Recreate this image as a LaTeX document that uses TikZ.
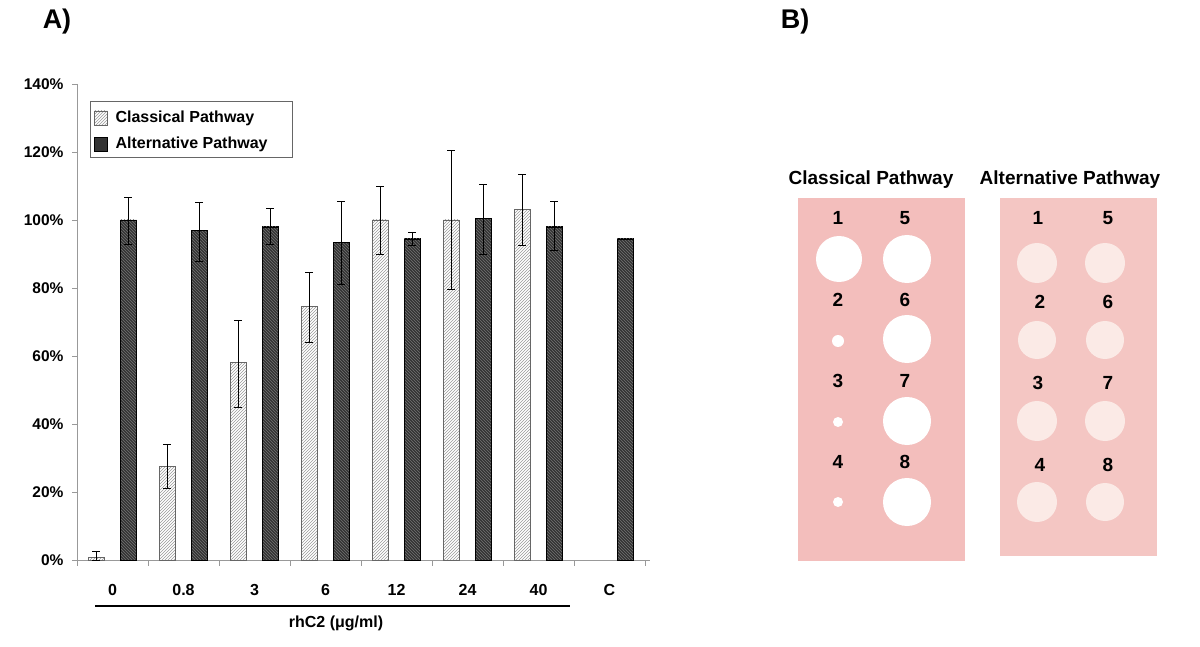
\documentclass[tikz,border=0pt]{standalone}
\usepackage{fontspec}
\setmainfont{Liberation Sans}
\usetikzlibrary{patterns}
\definecolor{plate}{HTML}{F3BEBC}
\definecolor{plateb}{HTML}{F4C6C3}
\definecolor{spotb}{HTML}{FBEAE6}
\definecolor{darkbar}{HTML}{333333}
\tikzset{
 lbl/.style={font=\bfseries\fontsize{16}{18}\selectfont},
 big/.style={font=\bfseries\fontsize{19}{21}\selectfont},
 tick/.style={font=\bfseries\fontsize{15.5}{17}\selectfont,anchor=east},
 classbar/.style={draw=black!60,line width=0.8pt,pattern=north east lines,pattern color=black!40},
 altbar/.style={draw=black,fill=darkbar,line width=0.6pt},
 err/.style={line width=0.6pt},
 spot/.style={fill=white},
 spotB/.style={fill=spotb},
}
\begin{document}
\begin{tikzpicture}[x=1pt,y=-1pt]
\useasboundingbox (0,0) rectangle (1200,647);
\node[font=\bfseries\fontsize{27}{29}\selectfont] (pa) at (57,22) {A)};
\node[font=\bfseries\fontsize{27}{29}\selectfont] (pb) at (795,22) {B)};
% axes
\draw[black!40] (77,84) -- (77,560) -- (610+40,560);
\foreach \i/\t in {0/0\%,1/20\%,2/40\%,3/60\%,4/80\%,5/100\%,6/120\%,7/140\%}{
  \draw[black!40] (72,560-68*\i) -- (77,560-68*\i);
  \node[tick] (t\i) at (67,560-68*\i) {\t};
}
\foreach \g in {0,...,8}{\draw[black!40] (77+71*\g,560) -- (77+71*\g,566);}
\foreach \g/\c/\cl/\ch/\a/\al/\ah in {0/0.8/0/2.5/100/93/106.7,1/27.5/21/34/97/88/105.3,2/58/45/70.5/98/93/103.5,3/74.5/64/84.5/93.5/81/105.5,4/100/90/110/94.5/92.5/96.5,5/100/79.5/120.5/100.5/90/110.5,6/103/92.5/113.5/98/91/105.5}{
  \pgfmathsetmacro{\xs}{77+71*\g}
  \draw[classbar] (\xs+11,560) rectangle (\xs+27,560-3.4*\c);
  \draw[err] (\xs+19,560-3.4*\cl) -- (\xs+19,560-3.4*\ch) (\xs+15,560-3.4*\ch) -- (\xs+23,560-3.4*\ch) (\xs+15,560-3.4*\cl) -- (\xs+23,560-3.4*\cl);
  \draw[altbar] (\xs+43,560) rectangle (\xs+59,560-3.4*\a);
  \draw[pattern=north west lines,pattern color=black!55] (\xs+43,560) rectangle (\xs+59,560-3.4*\a);
  \draw[err] (\xs+51,560-3.4*\al) -- (\xs+51,560-3.4*\ah) (\xs+47,560-3.4*\ah) -- (\xs+55,560-3.4*\ah) (\xs+47,560-3.4*\al) -- (\xs+55,560-3.4*\al);
}
\draw[altbar] (77+71*7+43,560) rectangle (77+71*7+59,560-3.4*94.5);
\draw[pattern=north west lines,pattern color=black!55] (77+71*7+43,560) rectangle (77+71*7+59,560-3.4*94.5);
\foreach \g/\t in {0/0,1/0.8,2/3,3/6,4/12,5/24,6/40,7/C}{
  \node[lbl] (c\g) at (77+71*\g+35.5,590) {\t};
}
\coordinate (l1) at (95,606); \coordinate (l2) at (570,606);
\draw[line width=2.5pt] (l1) -- (l2);
\node[lbl] (xl) at (336,623) {rhC2 (μg/ml)};
% legend
\draw[black!60,fill=white] (90,101) rectangle (292,157);
\draw[classbar] (94,111) rectangle (107,125);
\draw[altbar] (94,137) rectangle (107,151);
\node[lbl,anchor=west] (lg1) at (112,118) {Classical Pathway};
\node[lbl,anchor=west] (lg2) at (112,144) {Alternative Pathway};
% panel B
\node[big] (ta) at (871,180) {Classical Pathway};
\node[big] (tb) at (1070,180) {Alternative Pathway};
\fill[plate] (798,198) rectangle (965,561);
\fill[plateb] (1000,198) rectangle (1157,556);
\foreach \x/\y/\r in {839/259/23,907/259/24,838/341/6,907/339/24,838/422/5,907/421/24,838/502/5,907/502/24}{\fill[spot] (\x,\y) circle (\r);}
\foreach \x/\y/\r in {1037/263/20,1105/263/20,1037/340/19,1105/340/19,1037/421/20,1105/421/20,1037/502/20,1105/502/19}{\fill[spotB] (\x,\y) circle (\r);}
\foreach \n/\x/\y in {1/838/218,2/838/300,3/838/381,4/838/462,5/905/218,6/905/300,7/905/381,8/905/462}{\node[big] (n\n) at (\x,\y) {\n};}
\foreach \n/\x/\y in {1/1038/218,2/1040/302,3/1038/383,4/1040/465,5/1108/218,6/1108/302,7/1108/383,8/1108/465}{\node[big] (m\n) at (\x,\y) {\n};}
\end{tikzpicture}
\end{document}
